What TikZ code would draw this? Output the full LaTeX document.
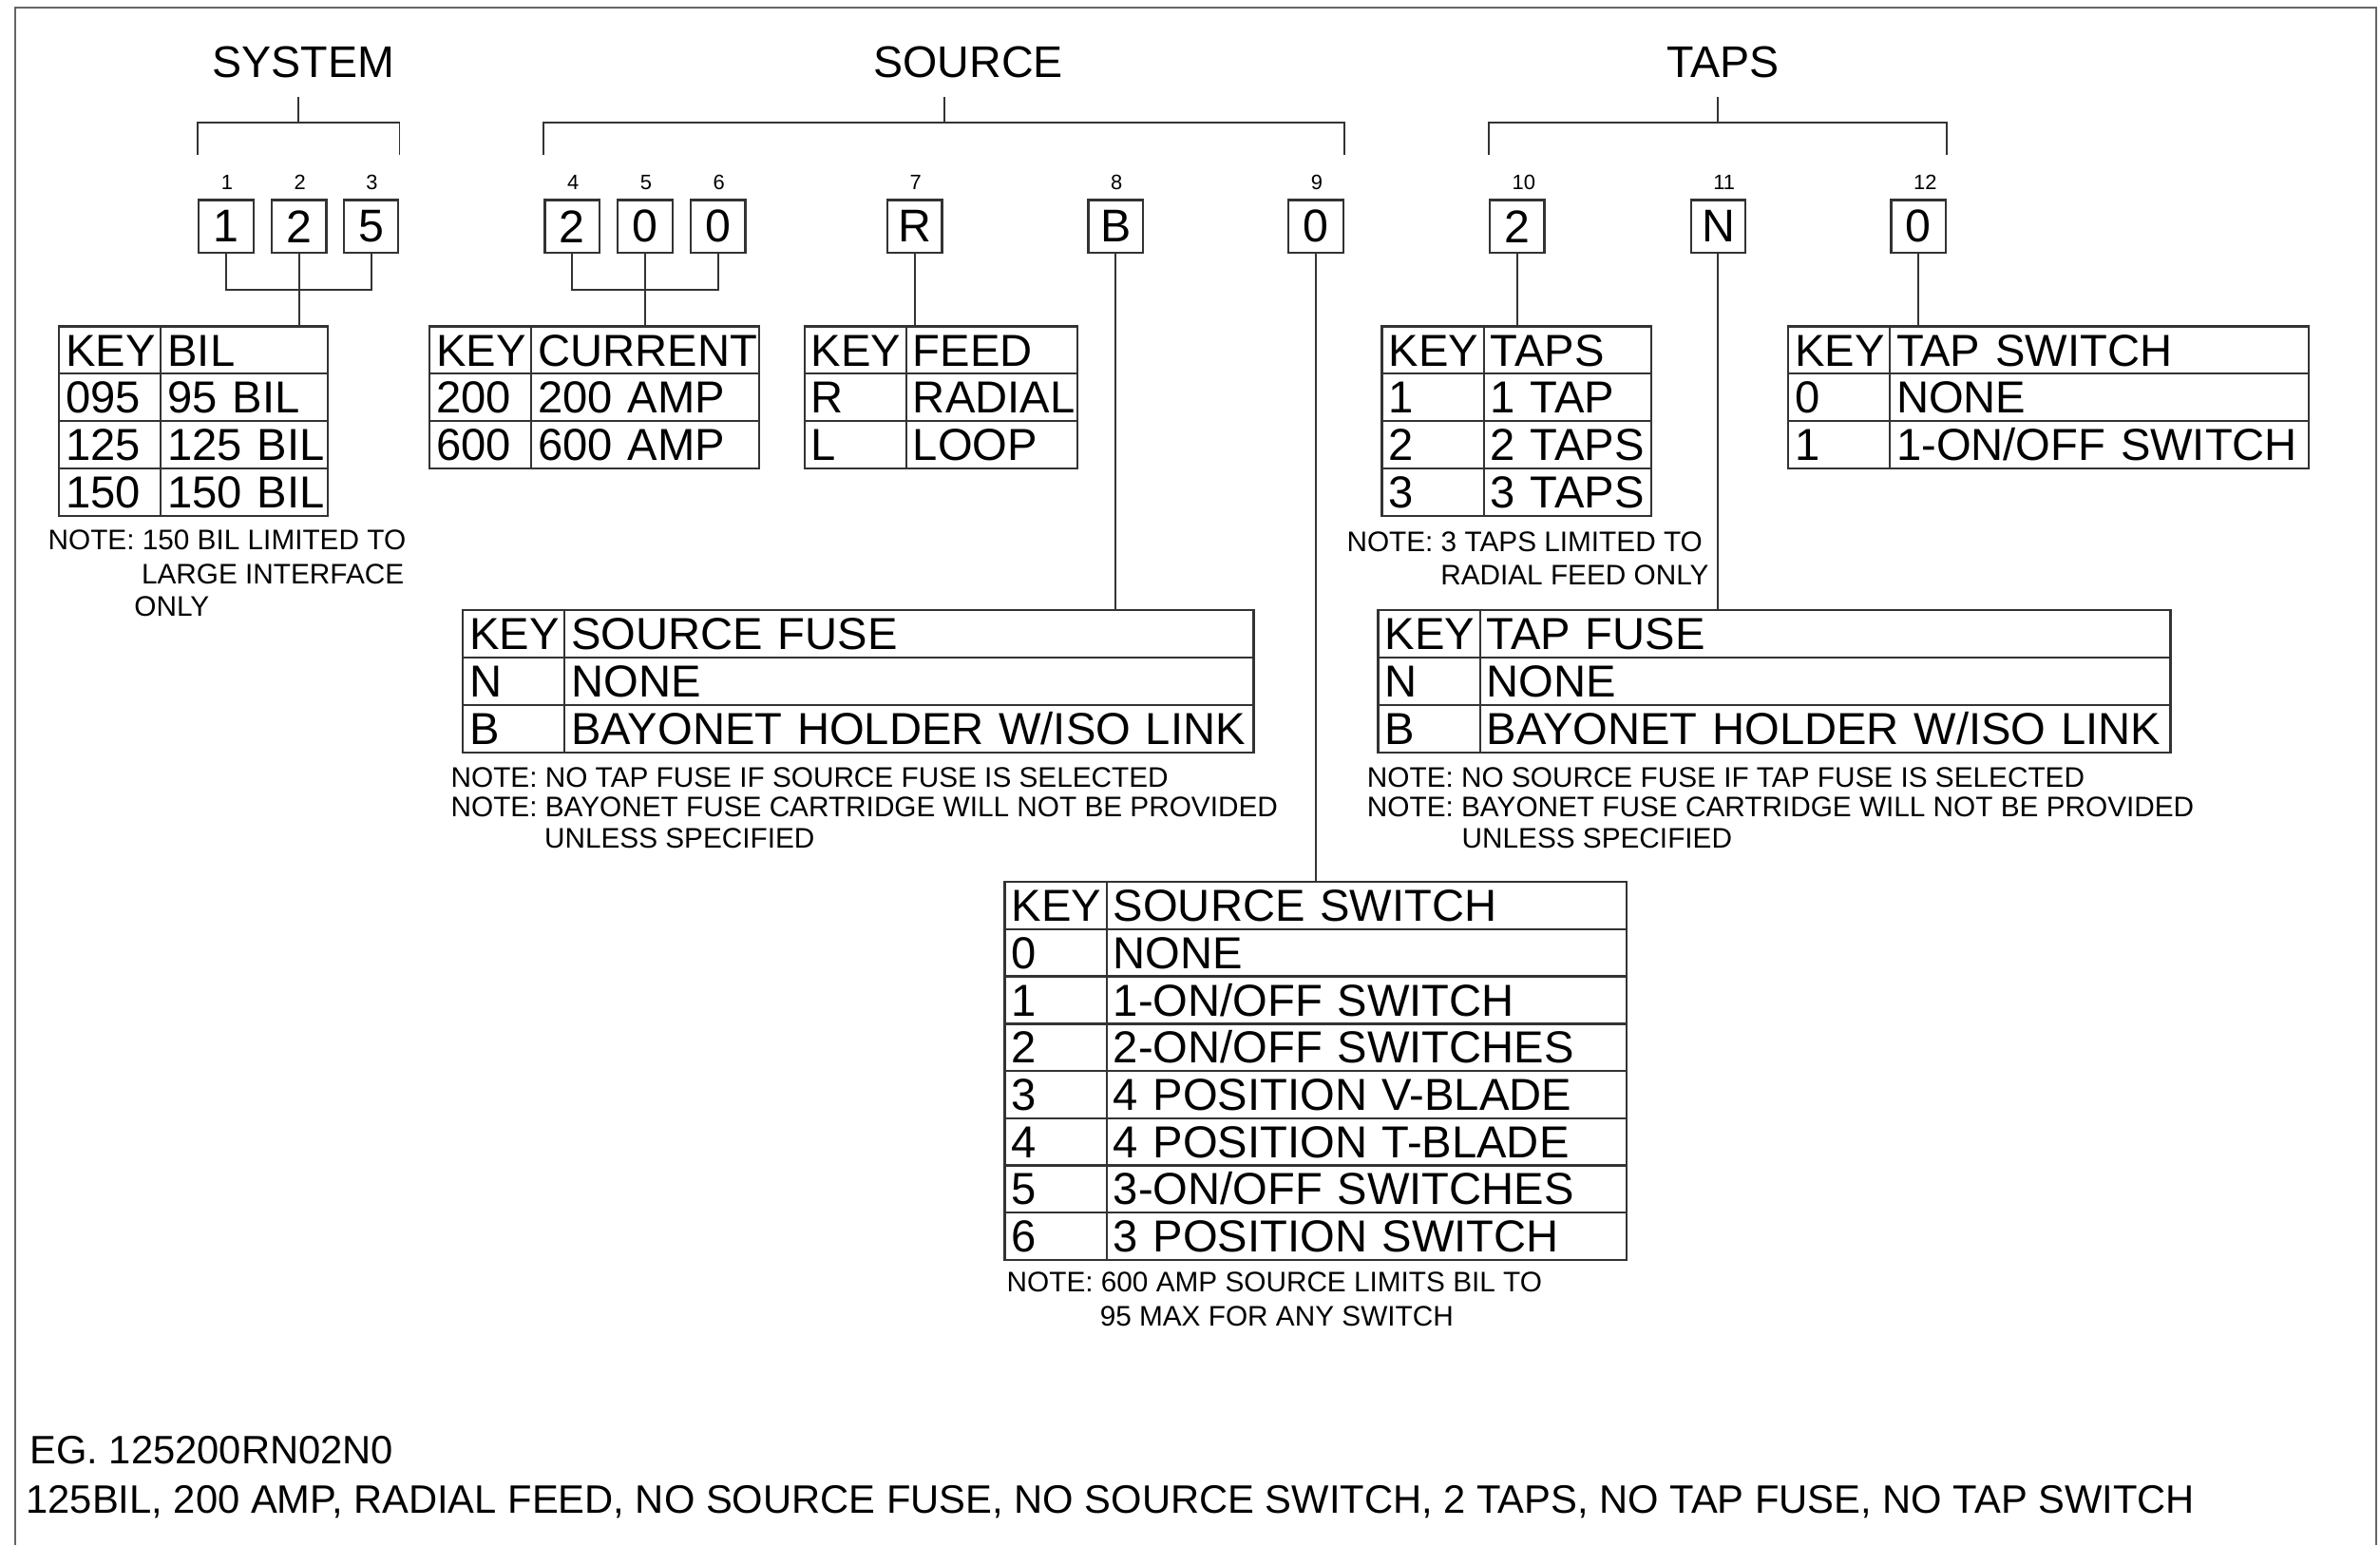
\documentclass[tikz,border=0pt]{standalone}
\usepackage{fontspec}
\setmainfont{Liberation Sans}
\usetikzlibrary{positioning}

\colorlet{linec}{black!80}
\colorlet{framec}{black!60}

\tikzset{
  title/.style={font=\fontsize{8.3}{10}\selectfont, inner sep=0pt},
  idx/.style={font=\fontsize{3.9}{5}\selectfont, inner sep=0pt, anchor=west},
  digit/.style={draw=linec, line width=0.4pt, minimum width=3.6mm, minimum height=3.5mm, inner sep=0pt, font=\fontsize{8.6}{9}\selectfont},
  cell/.style={draw=linec, line width=0.4pt, anchor=north west, outer sep=0pt, inner xsep=0.45mm, inner ysep=0pt,
               minimum height=3.12mm, text height=2.6mm, text depth=0.52mm, align=left, font=\fontsize{8.4}{9}\selectfont},
  keycell/.style={cell, text width=5.8mm},
  note/.style={anchor=base west, inner sep=0pt, font=\fontsize{5.3}{6}\selectfont},
  eg/.style={anchor=base west, inner sep=0pt, font=\fontsize{7.43}{9}\selectfont},
  wire/.style={draw=linec, line width=0.35pt},
}

\begin{document}
\begin{tikzpicture}[x=0.1mm, y=-0.1mm]
  \useasboundingbox (0,0) rectangle (1568,1018);
  % Frame
  \draw[framec, line width=0.5pt] (10,1018) -- (10,5) -- (1565.5,5) -- (1565.5,1018);

  % Group titles
  \node[title] (tsys) at (200,41) {SYSTEM};
  \node[title] (tsrc) at (638,41) {SOURCE};
  \node[title] (ttap) at (1135,41) {TAPS};

  % Digit boxes with their position numbers
  \foreach \n/\x/\d in {1/149/1, 2/197/2, 3/244.5/5, 4/377/2, 5/425/0, 6/473/0,
                        7/602.6/R, 8/735/B, 9/867/0, 10/999.5/2, 11/1132/N, 12/1264/0} {
    \node[digit] (b\n) at (\x,149.2) {\d};
    \node[idx] (n\n) at (\x-3.9,120) {\n};
  }

  % Brackets under the titles
  \coordinate (systop) at (196.75,64);
  \coordinate (sysbar) at (196.75,81);
  \coordinate (srctop) at (622,64);
  \coordinate (srcbar) at (622,81);
  \coordinate (taptop) at (1131.75,64);
  \coordinate (tapbar) at (1131.75,81);
  \draw[wire] (systop) -- (sysbar);
  \draw[wire] (srctop) -- (srcbar);
  \draw[wire] (taptop) -- (tapbar);
  \draw[wire] ([yshift=2.9mm]b1.north west) |- (sysbar) -| ([yshift=2.9mm]b3.north east);
  \draw[wire] ([yshift=2.9mm]b4.north west) |- (srcbar) -| ([yshift=2.9mm]b9.north east);
  \draw[wire] ([yshift=2.9mm]b10.north west) |- (tapbar) -| ([yshift=2.9mm]b12.north east);

  % KEY / BIL
  \foreach \k/\v [count=\i from 0] in {KEY/BIL, 095/95 BIL, 125/125 BIL, 150/150 BIL} {
    \node[keycell] (bil-k\i) at (39,215+31.2*\i) {\mbox{\k}};
    \node[cell, text width=10.1mm] (bil-v\i) at (106,215+31.2*\i) {\mbox{\v}};
  }
  % KEY / CURRENT
  \foreach \k/\v [count=\i from 0] in {KEY/CURRENT, 200/200 AMP, 600/600 AMP} {
    \node[keycell] (cur-k\i) at (283,215+31.2*\i) {\mbox{\k}};
    \node[cell, text width=14.1mm] (cur-v\i) at (350,215+31.2*\i) {\mbox{\v}};
  }
  % KEY / FEED
  \foreach \k/\v [count=\i from 0] in {KEY/FEED, R/RADIAL, L/LOOP} {
    \node[keycell] (feed-k\i) at (530,215+31.2*\i) {\mbox{\k}};
    \node[cell, text width=10.4mm] (feed-v\i) at (597,215+31.2*\i) {\mbox{\v}};
  }
  % KEY / SOURCE FUSE
  \foreach \k/\v [count=\i from 0] in {KEY/SOURCE FUSE, N/NONE, B/{BAYONET HOLDER W/ISO LINK}} {
    \node[keycell] (sfuse-k\i) at (305,402+31.2*\i) {\mbox{\k}};
    \node[cell, text width=44.5mm] (sfuse-v\i) at (372,402+31.2*\i) {\mbox{\v}};
  }
  % KEY / SOURCE SWITCH
  \foreach \k/\v [count=\i from 0] in {KEY/SOURCE SWITCH, 0/NONE, 1/{1-ON/OFF SWITCH}, 2/{2-ON/OFF SWITCHES},
                                       3/4 POSITION V-BLADE, 4/4 POSITION T-BLADE, 5/{3-ON/OFF SWITCHES}, 6/3 POSITION SWITCH} {
    \node[keycell] (ssw-k\i) at (662,581+31.1*\i) {\mbox{\k}};
    \node[cell, text width=33.35mm] (ssw-v\i) at (729,581+31.1*\i) {\mbox{\v}};
  }
  % KEY / TAPS
  \foreach \k/\v [count=\i from 0] in {KEY/TAPS, 1/1 TAP, 2/2 TAPS, 3/3 TAPS} {
    \node[keycell] (taps-k\i) at (910.5,215+31.2*\i) {\mbox{\k}};
    \node[cell, text width=10.15mm] (taps-v\i) at (977.5,215+31.2*\i) {\mbox{\v}};
  }
  % KEY / TAP FUSE
  \foreach \k/\v [count=\i from 0] in {KEY/TAP FUSE, N/NONE, B/{BAYONET HOLDER W/ISO LINK}} {
    \node[keycell] (tfuse-k\i) at (908,402+31.2*\i) {\mbox{\k}};
    \node[cell, text width=44.6mm] (tfuse-v\i) at (975,402+31.2*\i) {\mbox{\v}};
  }
  % KEY / TAP SWITCH
  \foreach \k/\v [count=\i from 0] in {KEY/TAP SWITCH, 0/NONE, 1/{1-ON/OFF SWITCH}} {
    \node[keycell] (tsw-k\i) at (1178,215+31.2*\i) {\mbox{\k}};
    \node[cell, text width=26.7mm] (tsw-v\i) at (1245,215+31.2*\i) {\mbox{\v}};
  }

  % Links from the boxes down to the tables
  \coordinate (sysjoin) at (196.75,191);
  \coordinate (curjoin) at (425,191);
  \draw[wire] (b1.south) |- (sysjoin) -| (b3.south);
  \draw[wire] (b2.south) -- (b2.south |- bil-v0.north);
  \draw[wire] (b4.south) |- (curjoin) -| (b6.south);
  \draw[wire] (b5.south) -- (b5.south |- cur-v0.north);
  \draw[wire] (b7.south) -- (b7.south |- feed-v0.north);
  \draw[wire] (b8.south) -- (b8.south |- sfuse-v0.north);
  \draw[wire] (b9.south) -- (b9.south |- ssw-v0.north);
  \draw[wire] (b10.south) -- (b10.south |- taps-v0.north);
  \draw[wire] (b11.south) -- (b11.south |- tfuse-v0.north);
  \draw[wire] (b12.south) -- (b12.south |- tsw-v0.north);

  % Notes
  \node[note] (nbil1) at (31,362) {NOTE: 150 BIL LIMITED TO};
  \node[note] (nbil2) at (92.6,384.5) {LARGE INTERFACE};
  \node[note] (nbil3) at (87.8,406) {ONLY};
  \node[note] (ntap1) at (886.6,363.3) {NOTE: 3 TAPS LIMITED TO};
  \node[note] (ntap2) at (948.4,385.5) {RADIAL FEED ONLY};
  \node[note] (nsf1) at (296.4,518.3) {NOTE: NO TAP FUSE IF SOURCE FUSE IS SELECTED};
  \node[note] (nsf2) at (296.4,538.3) {NOTE: BAYONET FUSE CARTRIDGE WILL NOT BE PROVIDED};
  \node[note] (nsf3) at (358,558.9) {UNLESS SPECIFIED};
  \node[note] (ntf1) at (900,518.3) {NOTE: NO SOURCE FUSE IF TAP FUSE IS SELECTED};
  \node[note] (ntf2) at (900,538.3) {NOTE: BAYONET FUSE CARTRIDGE WILL NOT BE PROVIDED};
  \node[note] (ntf3) at (962.4,558.9) {UNLESS SPECIFIED};
  \node[note] (nsw1) at (662.6,851) {NOTE: 600 AMP SOURCE LIMITS BIL TO};
  \node[note] (nsw2) at (724,873.5) {95 MAX FOR ANY SWITCH};

  % Example code
  \node[eg] (egcode) at (19,964) {EG. 125200RN02N0};
  \node[eg] (egtext) at (16.5,997) {125BIL, 200 AMP, RADIAL FEED, NO SOURCE FUSE, NO SOURCE SWITCH, 2 TAPS, NO TAP FUSE, NO TAP SWITCH};
\end{tikzpicture}
\end{document}
